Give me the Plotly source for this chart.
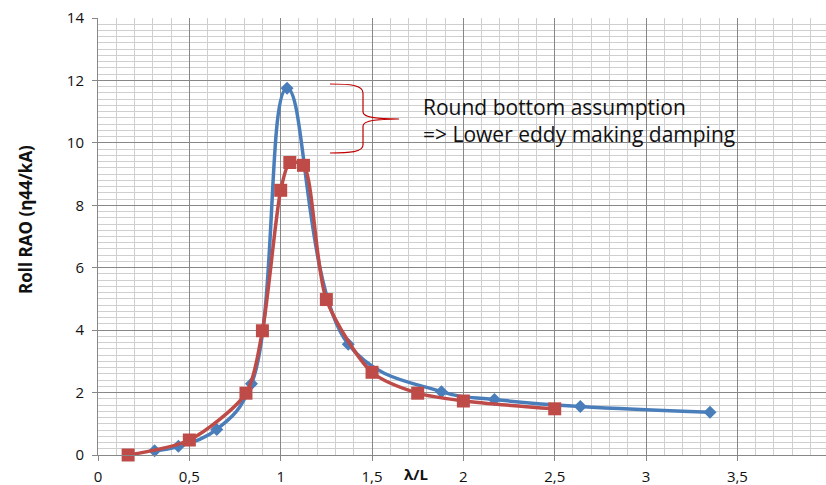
import plotly.graph_objects as go

# Roll RAO vs wavelength / ship length
blue_x = [0.31, 0.44, 0.65, 0.84, 1.035, 1.37, 1.88, 2.17, 2.64, 3.35]
blue_y = [0.14, 0.28, 0.82, 2.28, 11.75, 3.55, 2.03, 1.78, 1.55, 1.37]

red_x = [0.165, 0.5, 0.81, 0.9, 1.0, 1.05, 1.125, 1.25, 1.5, 1.75, 2.0, 2.5]
red_y = [0.0, 0.48, 1.98, 3.98, 8.48, 9.37, 9.28, 4.98, 2.65, 1.98, 1.73, 1.48]

x_ticks = [0, 0.5, 1, 1.5, 2, 2.5, 3, 3.5]
y_ticks = [0, 2, 4, 6, 8, 10, 12, 14]

BLUE = "#4A7EBB"
RED = "#BE4B48"
MAJOR = "#878787"
MINOR = "#CFCFCF"
FONT = "Open Sans"

# plot-area geometry in pixels
L, T, W, H = 98, 18, 728, 437


def paper_x(px):
    return (px - L) / W


def paper_y(py):
    return 1 - (py - T) / H


fig = go.Figure()
fig.add_trace(go.Scatter(
    x=blue_x, y=blue_y, mode="lines+markers",
    line=dict(color=BLUE, width=3.5, shape="spline", smoothing=1.15),
    marker=dict(symbol="diamond", size=10, color=BLUE),
    showlegend=False, cliponaxis=False,
))
fig.add_trace(go.Scatter(
    x=red_x, y=red_y, mode="lines+markers",
    line=dict(color=RED, width=3.5, shape="spline", smoothing=0.75),
    marker=dict(symbol="square", size=13, color=RED),
    showlegend=False, cliponaxis=False,
))

# curly brace pointing at the gap between the two peaks (pixel space)
brace_px = ("M 330,84 C 350,84 363,85 363,93 L 363,112 C 363,118 380,119 399,119 "
            "C 380,119 363,120 363,126 L 363,145 C 363,152 350,153 330,153")


def px_to_paper(path):
    out = []
    for t in path.split():
        if "," in t:
            px, py = map(float, t.split(","))
            out.append(f"{paper_x(px):.5f},{paper_y(py):.5f}")
        else:
            out.append(t)
    return " ".join(out)


fig.add_shape(type="path", path=px_to_paper(brace_px), xref="paper", yref="paper",
              line=dict(color="#C00000", width=1.2), layer="above")

fig.add_annotation(
    text="Round bottom assumption<br>=> Lower eddy making damping",
    x=paper_x(421), y=paper_y(120), xref="paper", yref="paper",
    xanchor="left", yanchor="middle", align="left", showarrow=False,
    font=dict(family=FONT, size=21, color="#111111"),
)
fig.add_annotation(
    text="<b>λ/L</b>", x=paper_x(416), y=paper_y(474),
    xref="paper", yref="paper", xanchor="center", yanchor="middle",
    showarrow=False, font=dict(family=FONT, size=15, color="#111111"),
)
fig.add_annotation(
    text="<b>Roll RAO (η44/kA)</b>", x=paper_x(25), y=paper_y(220),
    xref="paper", yref="paper", xanchor="center", yanchor="middle",
    textangle=-90, showarrow=False,
    font=dict(family=FONT, size=17, color="#111111"),
)

fig.update_layout(
    width=826, height=485,
    margin=dict(l=L, r=826 - L - W, t=T, b=485 - T - H, autoexpand=False),
    paper_bgcolor="white", plot_bgcolor="white",
    separators=", ",
    font=dict(family=FONT, size=15, color="#111111"),
)
fig.update_xaxes(
    range=[0, 3.985], tickvals=x_ticks, automargin=False,
    showgrid=True, gridcolor=MAJOR, gridwidth=1,
    minor=dict(dtick=0.1, showgrid=True, gridcolor=MINOR, gridwidth=1),
    showline=True, linecolor=MAJOR, linewidth=1,
    ticks="outside", ticklen=5, tickcolor=MAJOR,
    ticklabelstandoff=3,
    zeroline=False, tickfont=dict(size=15),
)
fig.update_yaxes(
    range=[0, 14], tickvals=y_ticks, automargin=False,
    showgrid=True, gridcolor=MAJOR, gridwidth=1,
    minor=dict(dtick=0.2, showgrid=True, gridcolor=MINOR, gridwidth=1),
    showline=True, linecolor=MAJOR, linewidth=1,
    ticks="outside", ticklen=5, tickcolor=MAJOR,
    ticklabelstandoff=5,
    zeroline=False, tickfont=dict(size=15),
)

fig.write_html("out.html")
